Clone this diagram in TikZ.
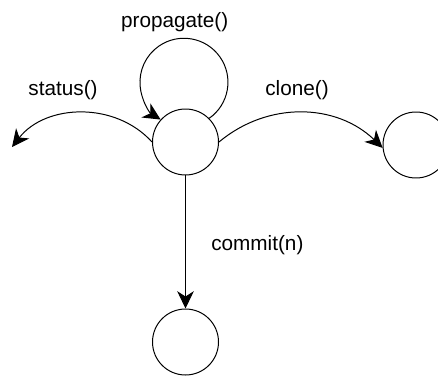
\documentclass[tikz,border=0pt]{standalone}
\usepackage{fontspec}
\setmainfont{Liberation Sans}
\usetikzlibrary{arrows.meta}

\begin{document}
\begin{tikzpicture}[line width=0.85pt,>={Stealth[length=0.52cm,width=0.5cm,inset=0.16cm]}]
\tikzset{
  state/.style={circle,draw,minimum size=1.98cm,inner sep=0pt},
  lbl/.style={anchor=base,inner sep=0pt,font=\fontsize{17.7}{21}\selectfont}
}
\useasboundingbox (0,0) rectangle (13.14,11.28);
% 状态节点
\node[state] (cur) at (5.565,7.02) {};
\node[state] (cln) at (12.48,6.93) {};
\node[state] (nxt) at (5.565,1.02) {};
\coordinate (out) at (0.36,6.87);
% 自环
\draw[->] (cur.45) arc[start angle=-55,end angle=238,radius=1.32];
\node[lbl] (prop) at (5.24,10.44) {propagate()};
% 左右两条弧
\draw[->] (cur.west) to[bend right=50] (out);
\node[lbl] (stat) at (1.89,8.4) {status()};
\draw[->] (cur.east) to[bend left=42] (cln.185);
\node[lbl] (clon) at (8.91,8.4) {clone()};
% 向下
\draw[->] (cur.south) -- (nxt.north);
\node[lbl] (comm) at (7.72,3.78) {commit(n)};
\end{tikzpicture}
\end{document}
